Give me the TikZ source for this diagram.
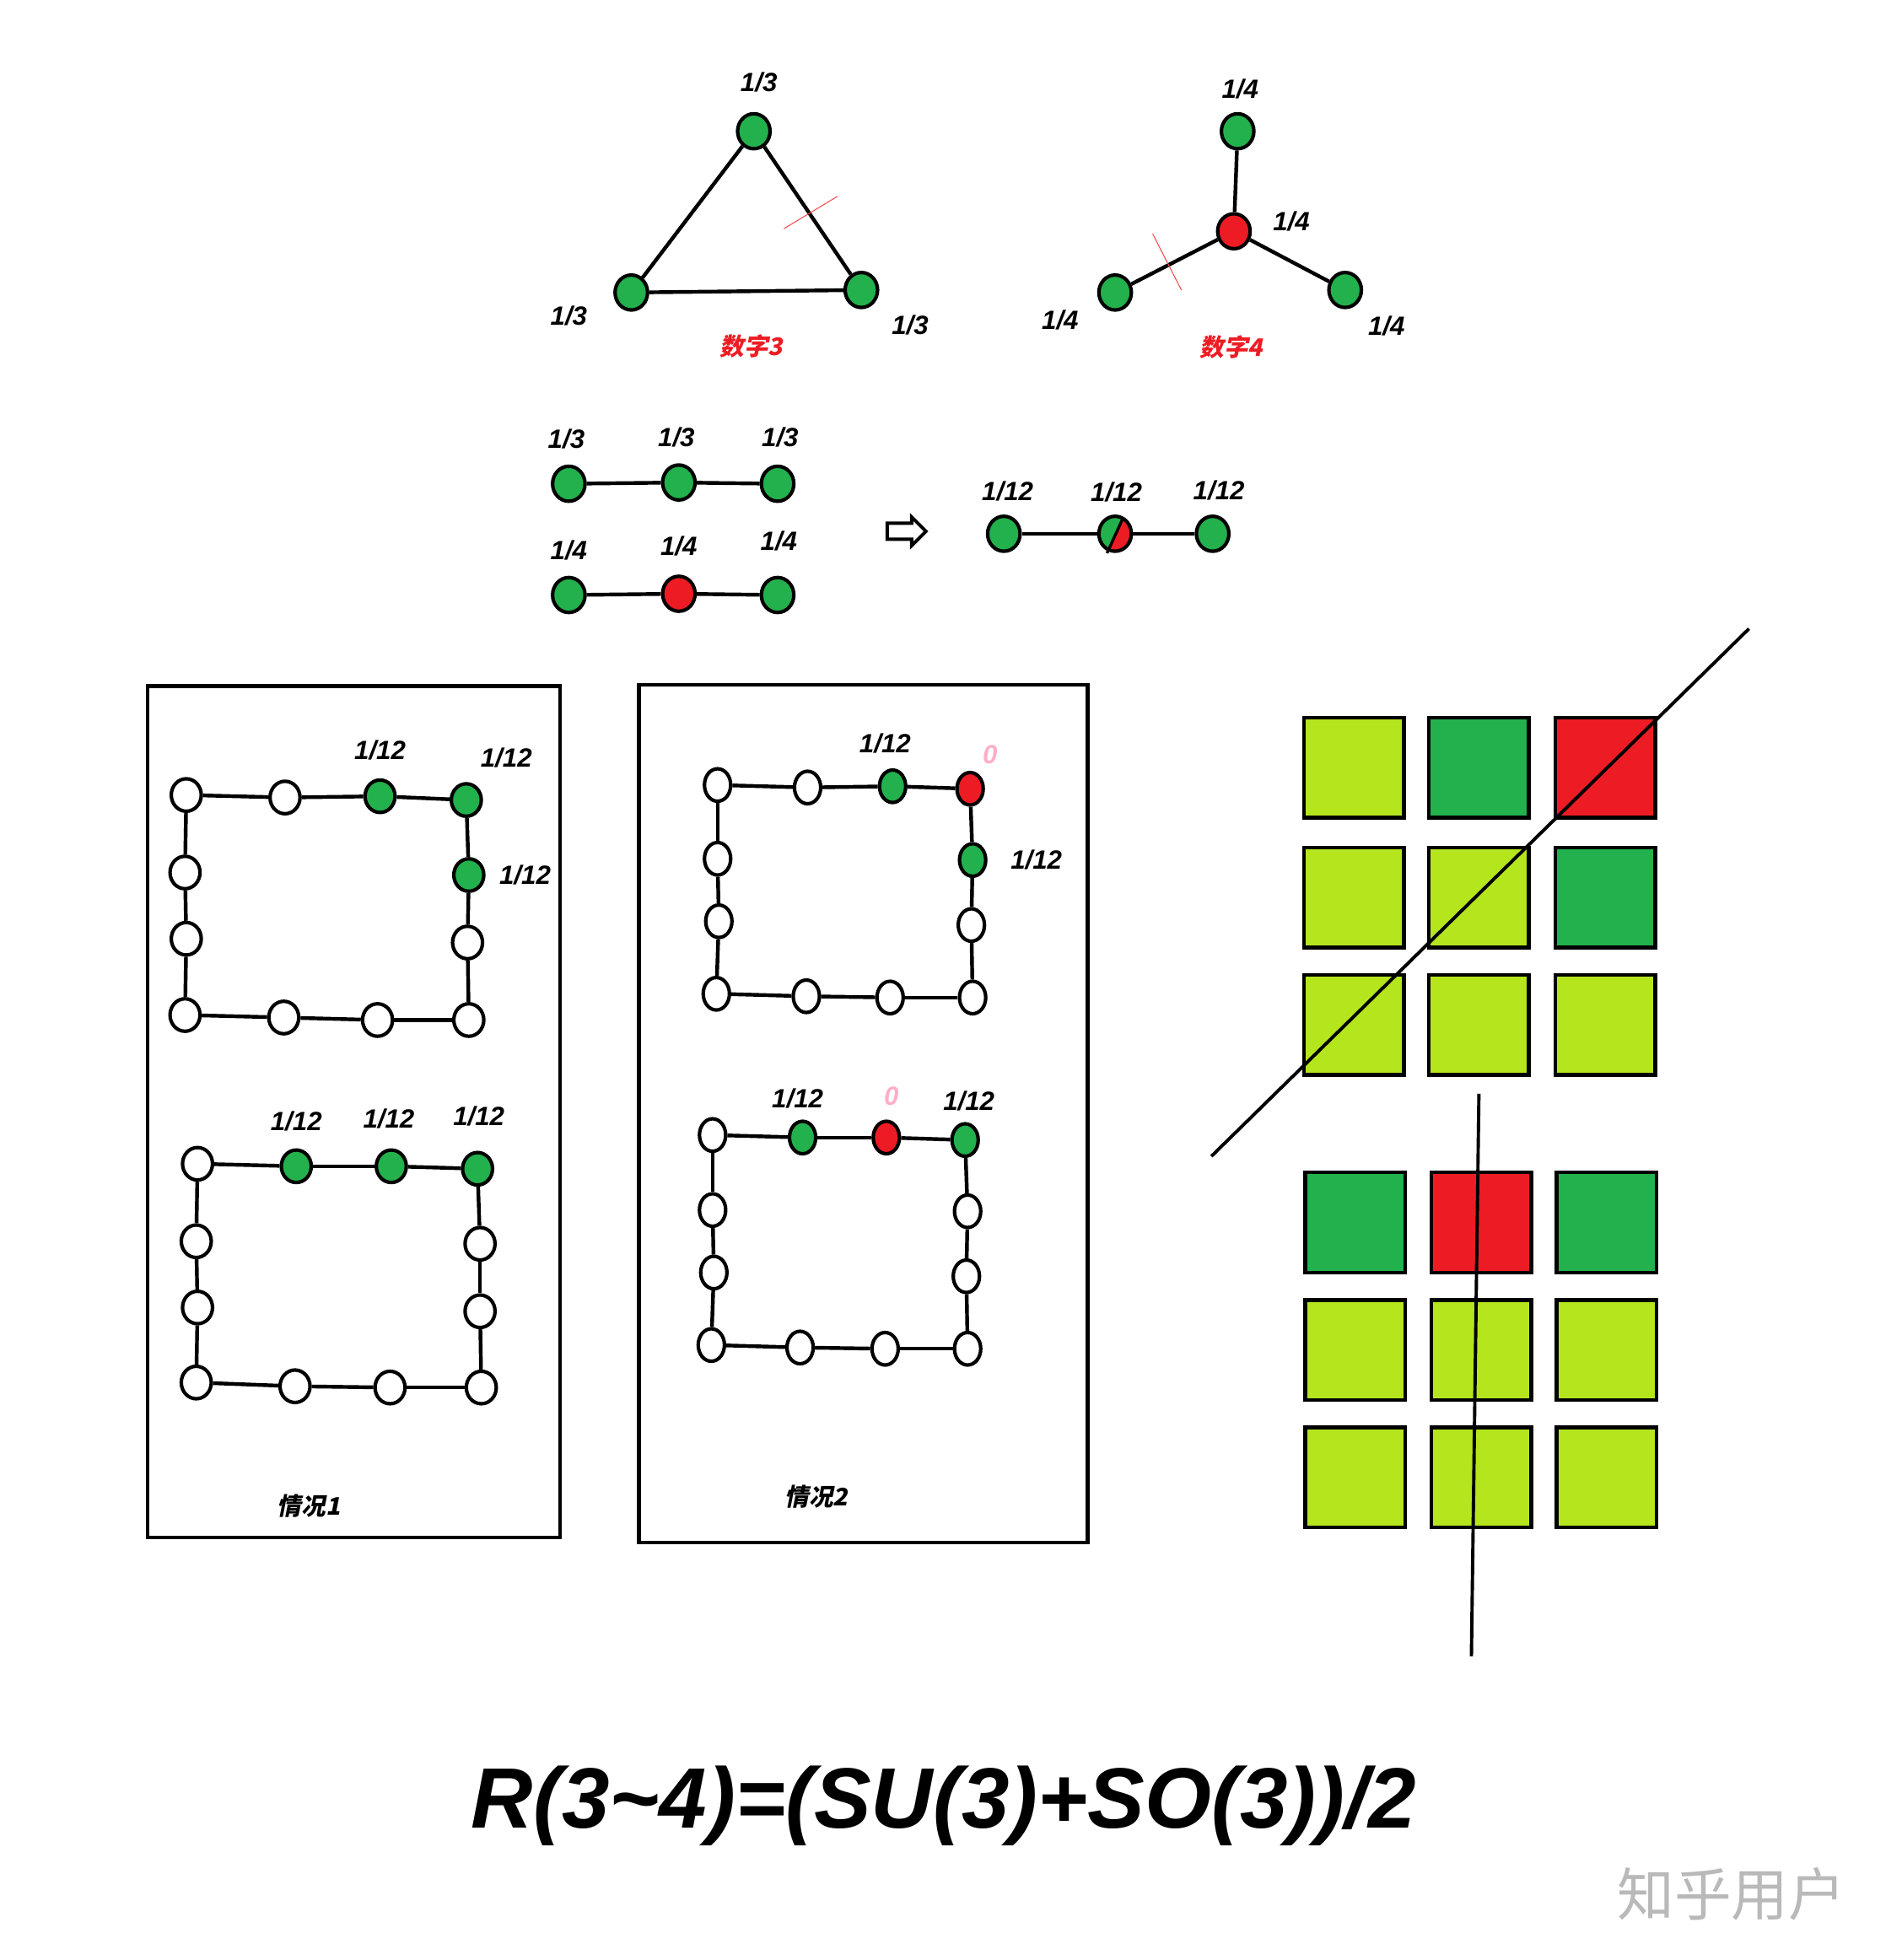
\documentclass[tikz,border=0pt]{standalone}
\usepackage{fontspec}
\setmainfont{Liberation Sans}
\newfontfamily\cjk[FakeSlant=0.2]{Noto Sans CJK SC}
\newfontfamily\cjkup{Noto Sans CJK SC}
\usepackage{xcolor}
\usepackage{tikz}
\usetikzlibrary{arrows.meta, positioning, shapes.geometric, shapes.arrows}
\definecolor{pgreen}{HTML}{22B14C}
\definecolor{pred}{HTML}{ED1C24}
\definecolor{plime}{HTML}{B5E61D}
\definecolor{ppink}{HTML}{FFAEC9}
\tikzset{
  % vertici
  pt/.style={ellipse,draw=black,line width=1.6pt,fill=white,inner sep=0pt,
    minimum width=0.46cm,minimum height=0.52cm},
  pt big/.style={pt,minimum width=0.52cm,minimum height=0.56cm},
  % connessioni
  link/.style={line width=1.7pt,black},
  hair/.style={pred!80,line width=0.4pt},
  cut/.style={line width=1.5pt,black},
  frame/.style={line width=1.7pt,black},
  % quadrati
  sq/.style={rectangle,draw=black,line width=1.7pt,inner sep=0pt,
    minimum width=1.6cm,minimum height=1.6cm},
  % testi
  lab/.style={font=\bfseries\itshape\fontsize{12}{12}\selectfont,inner sep=1pt},
  zero/.style={lab,text=ppink},
  tag/.style={font=\cjk\bfseries\fontsize{11}{11}\selectfont,inner sep=1pt}
}
\begin{document}
\begin{tikzpicture}[x=0.02cm,y=-0.02cm]
  \useasboundingbox (0,0) rectangle (1521,1568);
  % triangolo
  \node[pt big,fill=pgreen] (t1) at (603,105) {};
  \node[pt big,fill=pgreen] (t2) at (505,234) {};
  \node[pt big,fill=pgreen] (t3) at (689,232) {};
  \draw[link] (t1) -- (t2);
  \draw[link] (t2) -- (t3);
  \draw[link] (t3) -- (t1);
  \draw[hair] (627,183) -- (670,157);
  \node[lab] (lt1) at (607,66) {1/3};
  \node[lab] (lt2) at (455,253) {1/3};
  \node[lab] (lt3) at (728,260) {1/3};
  \node[tag,text=pred] (tg3) at (601,277) {数字3};
  % stella
  \node[pt big,fill=pred] (s0) at (987,185) {};
  \node[pt big,fill=pgreen] (s1) at (990,105) {};
  \node[pt big,fill=pgreen] (s2) at (892,234) {};
  \node[pt big,fill=pgreen] (s3) at (1076,232) {};
  \foreach \k in {1,2,3}
    \draw[link] (s0) -- (s\k);
  \draw[hair] (922,187) -- (945,232);
  \node[lab] (ls1) at (992,71) {1/4};
  \node[lab] (ls0) at (1033,177) {1/4};
  \node[lab] (ls2) at (848,256) {1/4};
  \node[lab] (ls3) at (1109,261) {1/4};
  \node[tag,text=pred] (tg4) at (985,278) {数字4};
  % catene
  \node[pt big,fill=pgreen] (c1) at (455,387) {};
  \node[pt big,fill=pgreen] (c2) at (543,386) {};
  \node[pt big,fill=pgreen] (c3) at (622,387) {};
  \node[pt big,fill=pgreen] (d1) at (455,476) {};
  \node[pt big,fill=pred] (d2) at (543,475) {};
  \node[pt big,fill=pgreen] (d3) at (622,476) {};
  \node[pt big,fill=pgreen] (e1) at (803,427) {};
  \node[pt big,fill=pgreen,path picture={
    \fill[pred] ([shift={(-0.12cm,-0.32cm)}]path picture bounding box.center)
      -- ([shift={(0.15cm,0.32cm)}]path picture bounding box.center)
      -- ([shift={(0.4cm,0.32cm)}]path picture bounding box.center)
      -- ([shift={(0.4cm,-0.32cm)}]path picture bounding box.center) -- cycle;}] (e2) at (892,427) {};
  \node[pt big,fill=pgreen] (e3) at (970,427) {};
  \draw[line width=1.3pt] ([shift={(-0.13cm,-0.31cm)}]e2.center) -- ([shift={(0.13cm,0.26cm)}]e2.center);
  \draw[link] (c1) -- (c2) -- (c3);
  \draw[link] (d1) -- (d2) -- (d3);
  \draw[link] (e1) -- (e2) -- (e3);
  \foreach \n/\x/\y in {1/453/351,2/541/350,3/624/350}
    \node[lab] (lc\n) at (\x,\y) {1/3};
  \foreach \n/\x/\y in {1/455/440,2/543/437,3/623/433}
    \node[lab] (ld\n) at (\x,\y) {1/4};
  \foreach \n/\x/\y in {1/806/393,2/893/394,3/975/392}
    \node[lab] (le\n) at (\x,\y) {1/12};
  \node[single arrow,draw=black,line width=1.5pt,fill=white,inner sep=0.1cm,
    minimum width=0.46cm,minimum height=0.62cm,single arrow head extend=0.1cm] (go) at (722,425) {};
  % riquadri
  \draw[frame] (118,549) rectangle (448,1230);
  \draw[frame] (511,548) rectangle (870,1234);
  % anelli da 12
  \foreach \n/\x/\y/\c in {1/149/636/white,2/228/638/white,3/304/637/pgreen,4/373/640/pgreen,
      5/375/700/pgreen,6/374/754/white,7/375/816/white,8/302/816/white,
      9/227/814/white,10/148/812/white,11/149/751/white,12/148/698/white}
    \node[pt,fill=\c,minimum width=0.48cm] (A\n) at (\x,\y) {};
  \foreach \n/\x/\y/\c in {1/158/931/white,2/237/933/pgreen,3/313/933/pgreen,4/382/935/pgreen,
      5/384/995/white,6/384/1049/white,7/385/1110/white,8/312/1110/white,
      9/236/1109/white,10/157/1106/white,11/158/1046/white,12/157/993/white}
    \node[pt,fill=\c,minimum width=0.48cm] (B\n) at (\x,\y) {};
  \foreach \n/\x/\y/\c in {1/574/628/white,2/646/630/white,3/714/629/pgreen,4/776/631/pred,
      5/778/688/pgreen,6/777/740/white,7/778/798/white,8/712/798/white,
      9/645/797/white,10/573/795/white,11/575/737/white,12/574/687/white}
    \node[pt,fill=\c,minimum width=0.42cm] (C\n) at (\x,\y) {};
  \foreach \n/\x/\y/\c in {1/570/908/white,2/642/910/pgreen,3/709/910/pred,4/772/912/pgreen,
      5/774/969/white,6/773/1021/white,7/774/1079/white,8/708/1079/white,
      9/640/1078/white,10/569/1076/white,11/571/1018/white,12/570/968/white}
    \node[pt,fill=\c,minimum width=0.42cm] (D\n) at (\x,\y) {};
  \foreach \r in {A,B,C,D}
    \foreach \a/\b in {1/2,2/3,3/4,4/5,5/6,6/7,7/8,8/9,9/10,10/11,11/12,12/1}
      \draw[link] (\r\a) -- (\r\b);
  \node[lab] (la1) at (304,600) {1/12};
  \node[lab] (la2) at (405,606) {1/12};
  \node[lab] (la3) at (420,700) {1/12};
  \node[lab] (lb1) at (237,897) {1/12};
  \node[lab] (lb2) at (311,895) {1/12};
  \node[lab] (lb3) at (383,893) {1/12};
  \node[lab] (lcc1) at (708,595) {1/12};
  \node[zero] (lcc2) at (792,604) {0};
  \node[lab] (lcc3) at (829,688) {1/12};
  \node[lab] (ldd1) at (638,879) {1/12};
  \node[zero] (ldd2) at (713,877) {0};
  \node[lab] (ldd3) at (775,881) {1/12};
  \node[tag] (case1) at (247,1205) {情况1};
  \node[tag] (case2) at (653,1197) {情况2};
  % griglie
  \foreach \i/\y in {1/614,2/718,3/820}
    \foreach \j/\x in {1/1083,2/1183,3/1284}
      \node[sq,fill=plime] (u\i\j) at (\x,\y) {};
  \node[sq,fill=pgreen] at (u12) {};
  \node[sq,fill=pred] at (u13) {};
  \node[sq,fill=pgreen] at (u23) {};
  \foreach \i/\y in {1/978,2/1080,3/1182}
    \foreach \j/\x in {1/1084,2/1185,3/1285}
      \node[sq,fill=plime] (v\i\j) at (\x,\y) {};
  \node[sq,fill=pgreen] at (v11) {};
  \node[sq,fill=pred] at (v12) {};
  \node[sq,fill=pgreen] at (v13) {};
  \coordinate (p1) at (969,925);
  \coordinate (p2) at (1399,503);
  \coordinate (q1) at (1183,875);
  \coordinate (q2) at (1177,1325);
  \draw[cut] (p1) -- (p2);
  \draw[cut] (q1) -- (q2);
  % formula
  \node[font=\bfseries\itshape\fontsize{39}{39}\selectfont] (eq) at (755,1445)
    {R(3\textasciitilde 4)=(SU(3)+SO(3))/2};
  \node[font=\cjkup\fontsize{26}{26}\selectfont,text=gray!55] (wm) at (1385,1515) {知乎用户};
\end{tikzpicture}
\end{document}
